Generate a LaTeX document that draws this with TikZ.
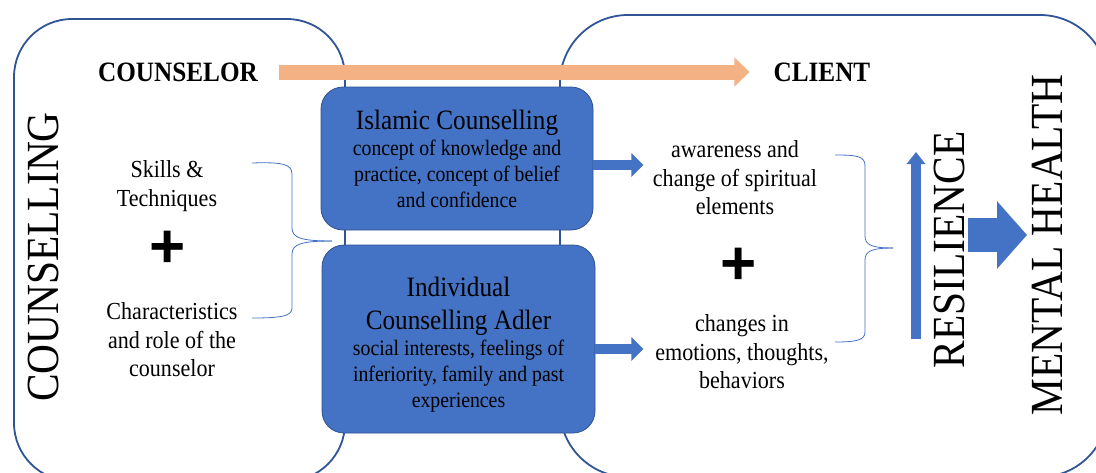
\documentclass[tikz,border=0pt]{standalone}
\usepackage{fontspec}
\setmainfont{Liberation Serif}[FakeStretch=0.9]
\newfontfamily\plusfont{Liberation Sans}
\usetikzlibrary{arrows.meta}
\definecolor{framecol}{HTML}{2F5597}
\definecolor{boxblue}{HTML}{4472C4}
\definecolor{boxedge}{HTML}{2F528F}
\definecolor{peach}{HTML}{F4B183}
\newcommand{\ttlfont}{\fontsize{28}{26}\selectfont}
\newcommand{\bdyfont}{\fontsize{22}{26}\selectfont}
\begin{document}
\begin{tikzpicture}[x=1pt,y=-1pt,
  framebox/.style={draw=framecol, line width=1.8pt},
  bluebox/.style={draw=boxedge, line width=0.8pt, fill=boxblue, rounded corners=22pt,
    inner sep=0pt, align=center, text=black, font=\bdyfont},
  plaintext/.style={align=center, inner sep=0pt, font=\fontsize{24.5}{28.5}\selectfont},
  captext/.style={inner sep=0pt, font=\bfseries\fontsize{28}{30}\selectfont},
  bigword/.style={inner sep=0pt, rotate=90, font=\fontsize{46}{50}\selectfont},
  plussign/.style={inner sep=0pt, font=\plusfont\bfseries\fontsize{62}{62}\selectfont},
  bracecurve/.style={draw=boxblue, line width=0.8pt},
  bluearrow/.style={draw=boxblue, line width=10pt, -{Triangle[length=12pt,width=23pt]}},
  peacharrow/.style={draw=peach, line width=15pt, -{Triangle[length=15pt,width=28pt]}},
]
\useasboundingbox (0,0) rectangle (1096,472);
\clip (0,0) rectangle (1096,472);

% big frames
\draw[framebox, rounded corners=58pt] (14,19) rectangle (345,481);
\draw[framebox, rounded corners=68pt] (560,15) rectangle (1108,477);

% headings
\node[captext] (counselor) at (178,72) {COUNSELOR};
\node[captext] (client) at (822,72) {CLIENT};
\draw[peacharrow] ([xshift=21pt]counselor.east) -- ([xshift=-24pt]client.west);

% vertical words
\node[bigword] (counselling) at (43,257) {COUNSELLING};
\node[bigword] (resilience) at (949,250) {RESILIENCE};
\node[bigword] (mental) at (1047,245) {MENTAL HEALTH};

% left column
\node[plaintext] (skills) at (167,186) {Skills \&\\Techniques};
\node[plussign] (plusL) at (168,249) {+};
\node[plaintext] (charac) at (172,340) {Characteristics\\and role of the\\counselor};

% blue boxes
\node[bluebox, minimum width=272pt, minimum height=143pt] (islamic) at (457,158.5)
  {\ttlfont Islamic Counselling\\\bdyfont concept of knowledge and\\\bdyfont practice, concept of belief\\\bdyfont and confidence};
\node[bluebox, minimum width=273pt, minimum height=188pt] (individual) at (458.5,339)
  {\ttlfont\rule{0pt}{30pt}Individual\\[7pt]\ttlfont Counselling Adler\\\bdyfont social interests, feelings of\\\bdyfont inferiority, family and past\\\bdyfont experiences};

% right column
\node[plaintext] (aware) at (735,178) {awareness and\\change of spiritual\\elements};
\node[plussign] (plusR) at (739,266) {+};
\node[plaintext] (changes) at (742,352) {changes in\\emotions, thoughts,\\behaviors};

% small arrows
\draw[bluearrow] ([yshift=-6.5pt]islamic.east) -- ([yshift=-6.5pt,xshift=50pt]islamic.east);
\draw[bluearrow] ([yshift=-10pt]individual.east) -- ([yshift=-10pt,xshift=48pt]individual.east);

% braces
\coordinate (lbTop) at (252,163);
\coordinate (lbTip) at (332,241);
\coordinate (lbBot) at (252,318);
\draw[bracecurve] (lbTop) .. controls (282,162) and (292,164) .. (292,174) -- (292,228)
  .. controls (292,238) and (302,241) .. (lbTip);
\draw[bracecurve] (lbTip) .. controls (302,241) and (292,244) .. (292,254) -- (292,308)
  .. controls (292,316) and (282,318) .. (lbBot);
\coordinate (rbTop) at (835,155);
\coordinate (rbTip) at (893,248);
\coordinate (rbBot) at (835,342);
\draw[bracecurve] (rbTop) .. controls (857,155) and (865,156) .. (865,166) -- (865,236)
  .. controls (865,245) and (872,248) .. (rbTip);
\draw[bracecurve] (rbTip) .. controls (872,248) and (865,251) .. (865,260) -- (865,332)
  .. controls (865,340) and (857,342) .. (rbBot);

% resilience arrow and big arrow
\coordinate (resA) at (916,339);
\coordinate (resB) at (916,152);
\draw[draw=boxblue, line width=10pt, -{Triangle[length=12pt,width=18pt]}] (resA) -- (resB);
\coordinate (bigA) at (968,235);
\coordinate (bigB) at (1027,235);
\draw[draw=boxblue, line width=34pt, -{Triangle[length=30pt,width=66pt]}] (bigA) -- (bigB);
\end{tikzpicture}
\end{document}
